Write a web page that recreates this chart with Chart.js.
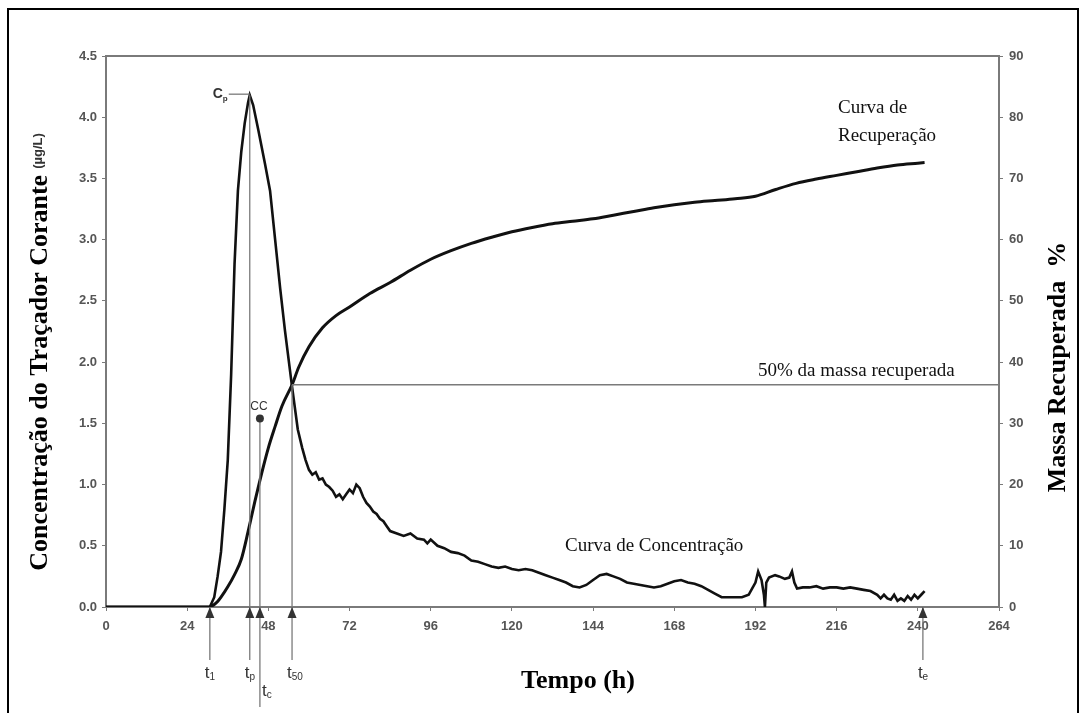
<!DOCTYPE html>
<html>
<head>
<meta charset="UTF-8">
<title>Curva de concentração e recuperação</title>
<style>
  body { margin: 0; background: #fff; }
  #wrap { width: 1084px; height: 713px; }
</style>
</head>
<body>
<div id="wrap"><canvas id="chart" width="1084" height="713"></canvas></div>

<script src="https://cdn.jsdelivr.net/npm/chart.js@4.4.0/dist/chart.umd.min.js"></script>

<script>
// concentration curve (µg/L) vs time (h)
const concHours = [0, 29, 30.7, 32, 33, 34, 35, 36, 37, 38, 39, 40, 41, 42, 42.5, 43.5, 45, 47, 48.5, 50, 51.5, 52.9, 55, 56.7, 58, 59, 60, 61, 62, 63, 64, 65, 66, 67, 68, 69, 70, 71, 72, 73, 74, 75, 76, 77, 78, 79, 80, 81, 82, 83, 84, 86, 88, 90, 92, 94, 95, 96, 98, 100, 102, 104, 106, 108, 110, 112, 114, 116, 118, 120, 122, 124, 126, 128, 130, 132, 134, 136, 138, 140, 142, 144, 146, 148, 150, 152, 154, 156, 158, 160, 162, 164, 166, 168, 170, 172, 174, 176, 178, 180, 182, 184, 186, 188, 190, 191, 192, 192.8, 193.8, 194.5, 194.8, 195.2, 196, 197.8, 199, 200.7, 202, 202.8, 203.5, 204.3, 206, 208, 210, 212, 214, 216, 218, 220, 222, 224, 226, 228, 229, 230, 231, 232, 233, 234, 235, 236, 237, 238, 239, 240, 241, 242];
const concValues = [0, 0, 0, 0.08, 0.25, 0.45, 0.8, 1.2, 1.9, 2.8, 3.4, 3.72, 3.95, 4.12, 4.18, 4.1, 3.9, 3.62, 3.4, 3.0, 2.6, 2.26, 1.8, 1.45, 1.3, 1.2, 1.12, 1.08, 1.1, 1.04, 1.05, 1.0, 0.98, 0.95, 0.9, 0.92, 0.88, 0.92, 0.96, 0.93, 1.0, 0.97, 0.9, 0.85, 0.82, 0.78, 0.76, 0.72, 0.7, 0.66, 0.62, 0.6, 0.58, 0.6, 0.56, 0.55, 0.52, 0.55, 0.5, 0.48, 0.45, 0.44, 0.42, 0.38, 0.37, 0.35, 0.33, 0.32, 0.33, 0.31, 0.3, 0.31, 0.3, 0.28, 0.26, 0.24, 0.22, 0.2, 0.17, 0.16, 0.18, 0.22, 0.26, 0.27, 0.25, 0.23, 0.2, 0.19, 0.18, 0.17, 0.16, 0.17, 0.19, 0.21, 0.22, 0.2, 0.19, 0.17, 0.14, 0.11, 0.08, 0.08, 0.08, 0.08, 0.1, 0.15, 0.2, 0.29, 0.22, 0.1, 0, 0.2, 0.24, 0.26, 0.25, 0.23, 0.24, 0.29, 0.2, 0.15, 0.16, 0.16, 0.17, 0.15, 0.16, 0.16, 0.15, 0.16, 0.15, 0.14, 0.13, 0.1, 0.07, 0.1, 0.07, 0.06, 0.1, 0.05, 0.07, 0.05, 0.09, 0.06, 0.1, 0.07, 0.1, 0.13];

// recovered mass (%) vs time (h)
const recHours = [0, 30, 31, 32, 33, 34, 36, 38, 40, 42, 44, 46, 48, 50, 52, 55, 57, 60, 64, 68, 72, 78, 84, 90, 96, 102, 108, 114, 120, 126, 132, 138, 144, 150, 156, 162, 168, 174, 180, 186, 192, 198, 204, 210, 216, 222, 228, 234, 240, 242];
const recValues = [0, 0, 0.1, 0.4, 0.9, 1.6, 3.3, 5.3, 7.8, 12.3, 17.2, 21.8, 26, 29.5, 32.8, 36.3, 39.2, 42.5, 45.6, 47.6, 49, 51.2, 53, 55, 56.8, 58.2, 59.4, 60.4, 61.3, 62, 62.6, 63, 63.4, 64, 64.6, 65.2, 65.7, 66.1, 66.4, 66.7, 67.1, 68.2, 69.2, 69.9, 70.5, 71.1, 71.7, 72.2, 72.5, 72.6];

// characteristic times (h) and marks
const timeMarks = [
  { name: 't', sub: '1', hour: 30.7 },
  { name: 't', sub: 'p', hour: 42.5 },
  { name: 't', sub: 'c', hour: 45.5 },
  { name: 't', sub: '50', hour: 55 },
  { name: 't', sub: 'e', hour: 241.5 }
];
const peakConc = 4.18;
const ccConc = 1.54;
const halfMass = 36.3;

const xTicks = [0, 24, 48, 72, 96, 120, 144, 168, 192, 216, 240, 264];

const grey = '#7a7a7a';
const tickFont = { family: 'Liberation Sans', size: 13, weight: 'bold' };

function subText(ctx, main, sub, x, y, size) {
  ctx.font = size + 'px "Liberation Sans"';
  const w = ctx.measureText(main).width;
  ctx.fillText(main, x, y);
  ctx.font = Math.round(size * 0.6) + 'px "Liberation Sans"';
  ctx.fillText(sub, x + w, y + size * 0.25);
}

const annotations = {
  id: 'annotations',
  beforeDraw(chart) {
    const ctx = chart.ctx;
    ctx.save();
    ctx.fillStyle = '#fff';
    ctx.fillRect(0, 0, chart.width, chart.height);
    ctx.strokeStyle = '#000';
    ctx.lineWidth = 2;
    ctx.strokeRect(8, 9, 1070, 720);
    ctx.restore();
  },
  afterDraw(chart) {
    const ctx = chart.ctx;
    const x = chart.scales.x, y = chart.scales.y, y1 = chart.scales.y1;
    const area = chart.chartArea;
    const base = area.bottom;
    ctx.save();

    // top frame of plot
    ctx.strokeStyle = grey;
    ctx.lineWidth = 2;
    ctx.beginPath();
    ctx.moveTo(area.left, area.top);
    ctx.lineTo(area.right, area.top);
    ctx.stroke();

    ctx.lineWidth = 1.3;
    ctx.fillStyle = '#333';
    const px = timeMarks.map(m => x.getPixelForValue(m.hour));

    // vertical guide lines
    const tops = [base, y.getPixelForValue(peakConc), y.getPixelForValue(ccConc), y1.getPixelForValue(halfMass), base];
    const bottoms = [660, 660, 707, 660, 660];
    px.forEach((p, i) => {
      ctx.beginPath();
      ctx.moveTo(p, tops[i]);
      ctx.lineTo(p, bottoms[i]);
      ctx.stroke();
      // arrow head at axis
      ctx.beginPath();
      ctx.moveTo(p, base);
      ctx.lineTo(p - 4.5, base + 11);
      ctx.lineTo(p + 4.5, base + 11);
      ctx.closePath();
      ctx.fill();
    });

    // 50% line
    const yh = y1.getPixelForValue(halfMass);
    ctx.beginPath();
    ctx.moveTo(px[3], yh);
    ctx.lineTo(area.right, yh);
    ctx.stroke();

    // Cp
    const yp = y.getPixelForValue(peakConc);
    ctx.beginPath();
    ctx.moveTo(px[1] - 21, yp - 1);
    ctx.lineTo(px[1], yp - 1);
    ctx.stroke();
    ctx.fillStyle = '#333';
    ctx.textBaseline = 'middle';
    ctx.textAlign = 'left';
    ctx.font = 'bold 14px "Liberation Sans"';
    ctx.fillText('C', px[1] - 37, yp - 1);
    ctx.font = 'bold 8px "Liberation Sans"';
    ctx.fillText('p', px[1] - 27, yp + 4);

    // CC point
    const yc = y.getPixelForValue(ccConc);
    ctx.beginPath();
    ctx.arc(px[2], yc, 4, 0, Math.PI * 2);
    ctx.fill();
    ctx.font = '12px "Liberation Sans"';
    ctx.textAlign = 'center';
    ctx.fillText('CC', px[2] - 1, yc - 12);

    // time labels
    ctx.textAlign = 'left';
    const labelY = [673, 673, 691, 673, 673];
    const labelDx = [-5, -5, 2, -5, -5];
    timeMarks.forEach((m, i) => {
      subText(ctx, m.name, m.sub, px[i] + labelDx[i], labelY[i], 17);
    });

    // curve texts
    ctx.fillStyle = '#111';
    ctx.font = '19px "Liberation Serif"';
    ctx.textAlign = 'left';
    ctx.fillText('Curva de', 838, 108);
    ctx.fillText('Recuperação', 838, 136);
    ctx.fillText('50% da massa recuperada', 758, 371);
    ctx.fillText('Curva de Concentração', 565, 546);

    // axis titles
    ctx.fillStyle = '#000';
    ctx.textAlign = 'center';
    ctx.font = 'bold 26px "Liberation Serif"';
    ctx.fillText('Tempo (h)', 578, 681);

    ctx.save();
    ctx.translate(40, 352);
    ctx.rotate(-Math.PI / 2);
    ctx.font = 'bold 26px "Liberation Serif"';
    const t1 = 'Concentração do Traçador Corante';
    const w1 = ctx.measureText(t1).width;
    ctx.font = 'bold 13px "Liberation Sans"';
    const t2 = '(µg/L)';
    const w2 = ctx.measureText(t2).width;
    const start = -(w1 + 6 + w2) / 2;
    ctx.textAlign = 'left';
    ctx.font = 'bold 26px "Liberation Serif"';
    ctx.fillText(t1, start, 0);
    ctx.font = 'bold 13px "Liberation Sans"';
    ctx.fillStyle = '#333';
    ctx.fillText(t2, start + w1 + 6, -2);
    ctx.restore();

    ctx.save();
    ctx.translate(1058, 367);
    ctx.rotate(-Math.PI / 2);
    ctx.textAlign = 'center';
    ctx.font = 'bold 26px "Liberation Serif"';
    ctx.fillText('Massa Recuperada  %', 0, 0);
    ctx.restore();

    ctx.restore();
  }
};

new Chart(document.getElementById('chart'), {
  type: 'line',
  data: {
    datasets: [{
      label: 'Curva de Concentração',
      data: concHours.map((h, i) => ({ x: h, y: concValues[i] })),
      borderColor: '#111',
      borderWidth: 2.6,
      pointRadius: 0,
      tension: 0,
      yAxisID: 'y'
    }, {
      label: 'Curva de Recuperação',
      data: recHours.map((h, i) => ({ x: h, y: recValues[i] })),
      borderColor: '#111',
      borderWidth: 3,
      pointRadius: 0,
      cubicInterpolationMode: 'monotone',
      yAxisID: 'y1'
    }]
  },
  options: {
    responsive: false,
    animation: false,
    layout: { padding: { left: 46, right: 25, top: 56, bottom: 56 } },
    plugins: { legend: { display: false }, tooltip: { enabled: false } },
    scales: {
      x: {
        type: 'linear',
        min: 0,
        max: 264,
        afterBuildTicks: s => { s.ticks = xTicks.map(v => ({ value: v })); },
        afterFit: s => { s.height = 50; },
        grid: { drawOnChartArea: false, color: grey, tickLength: 4 },
        border: { color: grey, width: 2 },
        ticks: { font: tickFont, color: '#555', maxRotation: 0, autoSkip: false, padding: 8 }
      },
      y: {
        position: 'left',
        min: 0,
        max: 4.5,
        afterFit: s => { s.width = 60; },
        grid: { drawOnChartArea: false, color: grey, tickLength: 4 },
        border: { color: grey, width: 2 },
        ticks: { stepSize: 0.5, font: tickFont, color: '#555', padding: 5, callback: v => v.toFixed(1) }
      },
      y1: {
        position: 'right',
        min: 0,
        max: 90,
        afterFit: s => { s.width = 60; },
        grid: { drawOnChartArea: false, color: grey, tickLength: 4 },
        border: { color: grey, width: 2 },
        ticks: { stepSize: 10, font: tickFont, color: '#555', padding: 6 }
      }
    }
  },
  plugins: [annotations]
});
</script>
</body>
</html>
